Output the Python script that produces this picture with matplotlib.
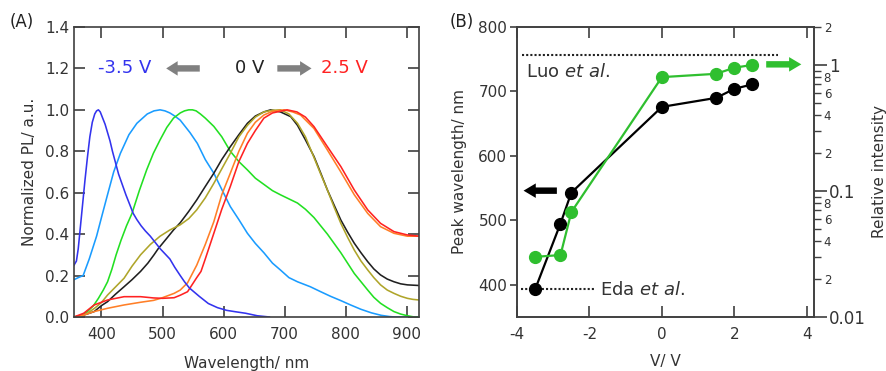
import numpy as np
import matplotlib
matplotlib.use('Agg')
import matplotlib.pyplot as plt
from matplotlib.ticker import FixedLocator, FixedFormatter

plt.rcParams.update({'font.size': 11, 'font.family': ['DejaVu Sans'],
                     'mathtext.fontset': 'dejavusans', 'axes.unicode_minus': False})

#%% Data
# (A) normalized PL spectra
lam_m35 = [355, 359, 362, 365, 369, 373, 377, 381, 385, 389, 392, 395, 398, 402, 406, 410, 414,
           418, 423, 428, 434, 440, 446, 452, 458, 465, 472, 480, 488, 496, 504, 512, 520, 529,
           536, 544, 552, 560, 575, 590, 605, 620, 636, 655, 675]
pl_m35  = [0.25, 0.27, 0.33, 0.42, 0.54, 0.66, 0.77, 0.87, 0.94, 0.98, 0.995, 1.00, 0.99, 0.96,
           0.93, 0.89, 0.85, 0.80, 0.745, 0.69, 0.64, 0.59, 0.545, 0.50, 0.47, 0.44, 0.415, 0.39,
           0.36, 0.33, 0.305, 0.28, 0.24, 0.20, 0.17, 0.14, 0.12, 0.10, 0.065, 0.045, 0.032,
           0.025, 0.018, 0.006, 0.0]

lam_lb = [355, 362, 370, 380, 392, 400, 409, 420, 431, 445, 458, 475, 486, 496, 504, 512, 520,
          529, 545, 557, 570, 584, 598, 611, 625, 639, 652, 666, 680, 693, 707, 721, 742, 759,
          775, 792, 808, 825, 842, 858, 872, 880, 920]
pl_lb  = [0.18, 0.19, 0.20, 0.28, 0.39, 0.48, 0.58, 0.70, 0.79, 0.88, 0.935, 0.98, 0.995, 1.00,
          0.995, 0.985, 0.97, 0.95, 0.89, 0.838, 0.76, 0.694, 0.61, 0.533, 0.47, 0.404, 0.355,
          0.31, 0.26, 0.227, 0.19, 0.17, 0.146, 0.122, 0.10, 0.079, 0.058, 0.037, 0.02, 0.008,
          0.002, 0.0, 0.0]

lam_gr = [355, 365, 377, 387, 395, 403, 410, 417, 424, 432, 441, 450, 462, 474, 485, 496, 507,
          518, 529, 536, 543, 549, 555, 562, 570, 584, 597, 611, 625, 639, 652, 666, 680, 693,
          707, 721, 734, 748, 759, 770, 781, 792, 803, 814, 825, 836, 846, 857, 868, 879, 890,
          901, 912, 920]
pl_gr  = [0.0, 0.005, 0.026, 0.055, 0.09, 0.13, 0.17, 0.23, 0.30, 0.37, 0.44, 0.50, 0.61, 0.71,
          0.79, 0.855, 0.915, 0.96, 0.985, 0.995, 1.00, 1.00, 0.995, 0.98, 0.96, 0.92, 0.87,
          0.80, 0.75, 0.71, 0.67, 0.64, 0.61, 0.59, 0.57, 0.55, 0.52, 0.48, 0.44, 0.40, 0.355,
          0.31, 0.26, 0.21, 0.17, 0.13, 0.095, 0.066, 0.045, 0.026, 0.014, 0.006, 0.0, 0.0]

lam_ol = [355, 365, 377, 390, 400, 410, 423, 437, 450, 464, 480, 496, 512, 529, 543, 556, 570,
          584, 597, 611, 625, 639, 652, 666, 680, 693, 707, 721, 734, 748, 759, 770, 781, 792,
          803, 814, 825, 836, 846, 857, 868, 879, 890, 901, 910, 920]
pl_ol  = [0.0, 0.005, 0.018, 0.045, 0.07, 0.106, 0.145, 0.187, 0.245, 0.30, 0.35, 0.39, 0.42,
          0.445, 0.475, 0.517, 0.575, 0.645, 0.715, 0.79, 0.87, 0.925, 0.965, 0.99, 0.998, 1.00,
          0.98, 0.935, 0.87, 0.77, 0.69, 0.613, 0.53, 0.452, 0.385, 0.323, 0.27, 0.227, 0.19,
          0.155, 0.13, 0.114, 0.10, 0.09, 0.085, 0.082]

lam_bk = [355, 365, 377, 388, 400, 410, 423, 437, 450, 464, 476, 486, 493, 507, 518, 529, 543,
          556, 570, 584, 597, 611, 625, 639, 652, 666, 677, 693, 710, 721, 734, 748, 759, 770,
          781, 792, 803, 814, 825, 836, 846, 857, 868, 879, 890, 901, 920]
pl_bk  = [0.0, 0.004, 0.015, 0.026, 0.055, 0.074, 0.11, 0.146, 0.18, 0.22, 0.26, 0.30, 0.33,
          0.38, 0.42, 0.455, 0.51, 0.565, 0.63, 0.694, 0.76, 0.822, 0.88, 0.935, 0.97, 0.99,
          1.00, 0.99, 0.967, 0.925, 0.855, 0.775, 0.695, 0.613, 0.54, 0.468, 0.41, 0.356, 0.31,
          0.267, 0.232, 0.203, 0.183, 0.17, 0.16, 0.155, 0.152]

lam_or = [355, 370, 388, 410, 437, 464, 485, 497, 519, 529, 541, 556, 570, 584, 597, 611, 625,
          639, 652, 666, 680, 699, 713, 726, 748, 770, 792, 814, 836, 857, 879, 901, 920]
pl_or  = [0.0, 0.008, 0.026, 0.042, 0.058, 0.071, 0.08, 0.09, 0.114, 0.13, 0.165, 0.25, 0.35,
          0.46, 0.59, 0.694, 0.80, 0.887, 0.94, 0.975, 0.993, 1.00, 0.99, 0.975, 0.91, 0.806,
          0.70, 0.59, 0.50, 0.436, 0.404, 0.39, 0.39]

lam_rd = [355, 371, 388, 410, 437, 464, 485, 500, 519, 529, 541, 556, 563, 570, 584, 597, 611,
          625, 639, 652, 666, 680, 704, 720, 734, 748, 770, 792, 814, 836, 857, 879, 901, 920]
pl_rd  = [0.0, 0.018, 0.058, 0.082, 0.098, 0.098, 0.092, 0.09, 0.093, 0.105, 0.122, 0.19, 0.22,
          0.28, 0.404, 0.52, 0.63, 0.75, 0.838, 0.90, 0.96, 0.985, 1.00, 0.99, 0.965, 0.919,
          0.822, 0.726, 0.613, 0.517, 0.452, 0.412, 0.396, 0.39]

# (B) peak wavelength and relative intensity vs bias
volt      = [-3.5, -2.8, -2.5, 0.0, 1.5, 2.0, 2.5]
peak_nm   = [393, 495, 543, 676, 690, 704, 711]
rel_int   = [0.030, 0.031, 0.068, 0.80, 0.85, 0.95, 1.00]

luo_nm = 756
eda_nm = 393

c_gris  = '#404040'
c_verde = '#2fbf2f'

fig = plt.figure(figsize=(8.87, 3.71), dpi=100)

# (A) *************************************************************************
ax = fig.add_axes([0.0834, 0.1456, 0.389, 0.7817])
lw_a = 1.15
ax.plot(lam_lb, pl_lb, color='#1a9cff', lw=lw_a)
ax.plot(lam_gr, pl_gr, color='#22e022', lw=lw_a)
ax.plot(lam_bk, pl_bk, color='#202020', lw=lw_a)
ax.plot(lam_ol, pl_ol, color='#afa52a', lw=lw_a)
ax.plot(lam_or, pl_or, color='#ff7f27', lw=lw_a)
ax.plot(lam_rd, pl_rd, color='#ff2222', lw=lw_a)
ax.plot(lam_m35, pl_m35, color='#3333ee', lw=lw_a)

ax.set_xlim(355, 920)
ax.set_ylim(0, 1.4)
ax.set_xticks([400, 500, 600, 700, 800, 900])
ax.set_yticks(np.arange(0, 1.41, 0.2))
ax.yaxis.set_major_formatter(plt.FormatStrFormatter('%.1f'))
ax.tick_params(direction='in', top=True, right=True, length=8, width=1.2,
               colors=c_gris, labelcolor='#333333')
ax.tick_params(axis='x', pad=7)
for s in ax.spines.values():
    s.set_color(c_gris)
    s.set_linewidth(1.2)
ax.set_xlabel('Wavelength/ nm', color='#333333', labelpad=10)
ax.set_ylabel('Normalized PL/ a.u.', color='#333333', labelpad=6)

ax.text(438, 1.2, '-3.5 V', color='#3333ee', fontsize=13, ha='center', va='center')
ax.text(642, 1.2, '0 V', color='#222222', fontsize=13, ha='center', va='center')
ax.text(798, 1.2, '2.5 V', color='#ff2222', fontsize=13, ha='center', va='center')
flecha = dict(arrowstyle='simple,head_length=0.75,head_width=0.95,tail_width=0.42',
              color='#808080', lw=0, shrinkA=0, shrinkB=0)
ax.annotate('', xy=(506, 1.2), xytext=(561, 1.2), arrowprops=flecha)
ax.annotate('', xy=(744, 1.2), xytext=(688, 1.2), arrowprops=flecha)

fig.text(10/887, 1-22/371, '(A)', fontsize=12, color='#222222', va='center')

# (B) *************************************************************************
ax2 = fig.add_axes([0.5829, 0.1456, 0.3348, 0.7817])
ax2r = ax2.twinx()

ax2.plot([-3.85, 3.2], [luo_nm, luo_nm], color='#222222', lw=1.5, ls=(0, (1, 1)))
ax2.plot([-3.9, -1.85], [eda_nm, eda_nm], color='#222222', lw=1.5, ls=(0, (1, 1)))
ax2.text(-3.75, 730, r'Luo $\mathit{et\ al.}$', fontsize=13, color='#333333', va='center')
ax2.text(-1.72, 392, r'Eda $\mathit{et\ al.}$', fontsize=13, color='#333333', va='center')

ax2.plot(volt, peak_nm, '-o', color='black', lw=1.6, ms=8.5, zorder=3)
ax2r.plot(volt, rel_int, '-o', color=c_verde, lw=1.6, ms=8.5, zorder=3)

flecha_b = dict(arrowstyle='simple,head_length=0.8,head_width=0.95,tail_width=0.42',
                lw=0, shrinkA=0, shrinkB=0)
ax2.annotate('', xy=(-3.82, 546), xytext=(-2.9, 546), arrowprops=dict(flecha_b, color='black'))
ax2.annotate('', xy=(3.85, 742), xytext=(2.88, 742), arrowprops=dict(flecha_b, color=c_verde))

ax2.set_xlim(-4, 4.2)
ax2.set_ylim(350, 800)
ax2.set_xticks([-4, -2, 0, 2, 4])
ax2.set_yticks([400, 500, 600, 700, 800])
ax2.tick_params(axis='x', direction='in', top=True, length=8, width=1.2, pad=7,
                colors=c_gris, labelcolor='#333333')
ax2.tick_params(axis='y', direction='out', length=5, width=1.2, pad=2,
                colors=c_gris, labelcolor='#333333')
ax2.set_xlabel('V/ V', color='#333333', labelpad=9)
ax2.set_ylabel('Peak wavelength/ nm', color='#333333', labelpad=8)

ax2r.set_yscale('log')
ax2r.set_ylim(0.01, 2)
ax2r.yaxis.set_major_locator(FixedLocator([0.01, 0.1, 1]))
ax2r.yaxis.set_major_formatter(FixedFormatter(['0.01', '0.1', '1']))
menores = [k*d for d in (0.01, 0.1) for k in range(2, 10)] + [2]
etiq = [str(k) if k % 2 == 0 else '' for d in (0.01, 0.1) for k in range(2, 10)] + ['2']
ax2r.yaxis.set_minor_locator(FixedLocator(menores))
ax2r.yaxis.set_minor_formatter(FixedFormatter(etiq))
ax2r.tick_params(axis='y', which='major', direction='out', length=9, width=1.2, pad=2,
                 colors=c_gris, labelcolor='#333333', labelsize=12)
ax2r.tick_params(axis='y', which='minor', direction='out', length=5, width=1.0, pad=2,
                 colors=c_gris, labelcolor='#333333', labelsize=8.5)
ax2r.set_ylabel('Relative intensity', color='#333333')
ax2r.yaxis.set_label_coords(1.195, 0.5)

for a in (ax2, ax2r):
    for s in a.spines.values():
        s.set_color(c_gris)
        s.set_linewidth(1.2)

fig.text(450/887, 1-22/371, '(B)', fontsize=12, color='#222222', va='center')

fig.savefig('out.png', dpi=100)
